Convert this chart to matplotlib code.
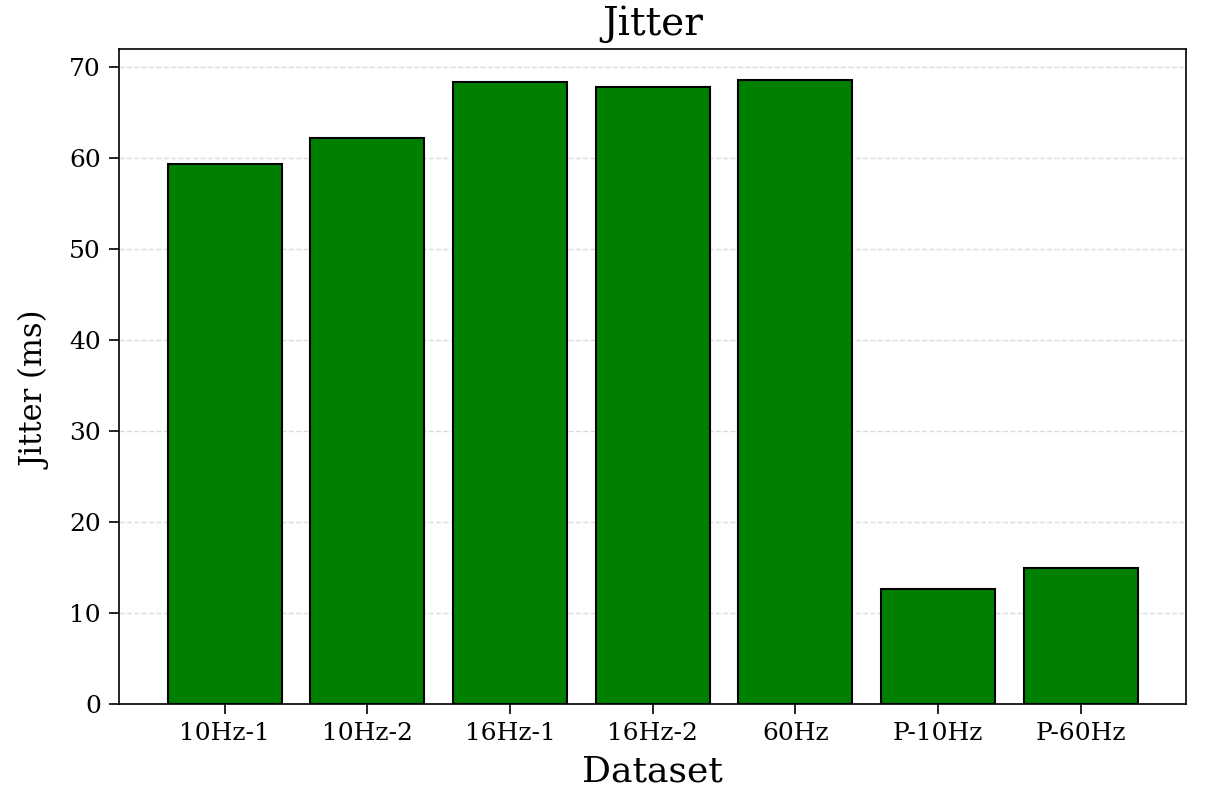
import matplotlib
matplotlib.use("Agg")
import matplotlib.pyplot as plt

datasets = ["10Hz-1", "10Hz-2", "16Hz-1", "16Hz-2", "60Hz", "P-10Hz", "P-60Hz"]
jitter_ms = [59.35, 62.25, 68.36, 67.8, 68.55, 12.6, 14.9]

plt.rcParams['font.family'] = ['DejaVu Serif']

fig = plt.figure(figsize=(12.08, 7.91), dpi=100)
ax = fig.add_axes([0.0985, 0.110, 0.8835, 0.828])
ax.bar(datasets, jitter_ms, width=0.8, color='green', edgecolor='black', linewidth=1.5)
ax.grid(axis='y', linestyle='--', color='#cccccc', alpha=0.7, linewidth=1)
ax.set_axisbelow(True)
ax.set_title("Jitter", fontsize=28, pad=10)
ax.set_xlabel("Dataset", fontsize=26, labelpad=7)
ax.set_ylabel("Jitter (ms)", fontsize=22)
ax.yaxis.set_label_coords(-0.063, 0.479)
ax.tick_params(axis='x', labelsize=18, length=7, width=1.2, pad=6)
ax.tick_params(axis='y', labelsize=18, length=7, width=1.2, pad=6)
for s in ax.spines.values():
    s.set_linewidth(1.2)
fig.savefig("out.png", dpi=100)
